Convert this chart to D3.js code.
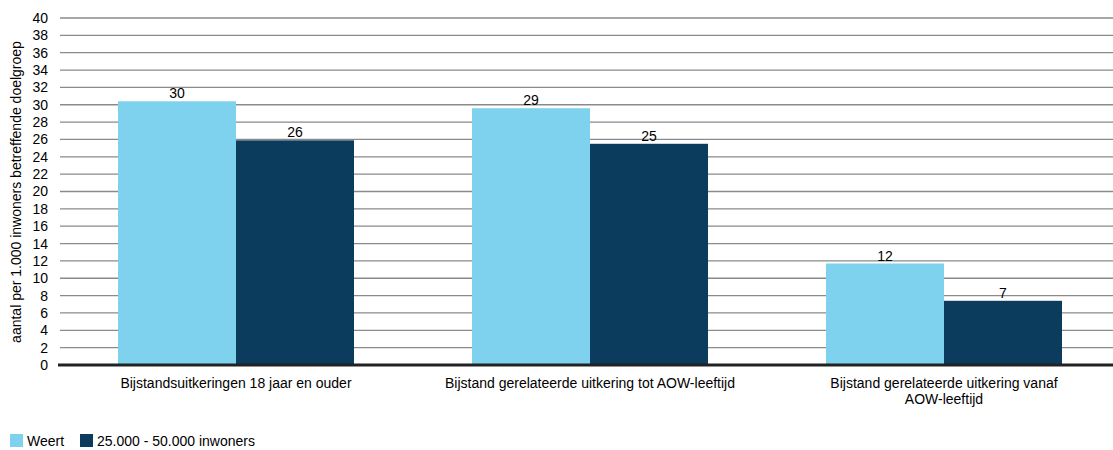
<!DOCTYPE html>
<html><head><meta charset="utf-8">
<script src="https://cdn.jsdelivr.net/npm/d3@7"></script>
<style>body{margin:0;background:#fff;} text{font-family:"Liberation Sans",Arial,sans-serif;}</style>
</head><body><svg id="c" width="1113" height="450"></svg>
<script>
const categories = ["Bijstandsuitkeringen 18 jaar en ouder", "Bijstand gerelateerde uitkering tot AOW-leeftijd", "Bijstand gerelateerde uitkering vanaf AOW-leeftijd"];
const seriesNames = ["Weert", "25.000 - 50.000 inwoners"];
const weert = [30.4, 29.6, 11.7];
const gemeenten = [25.9, 25.5, 7.4];
const valueLabels = [[30, 29, 12], [26, 25, 7]];
const yTicks = d3.range(0, 41, 2);
const colors = ["#7ED2EE", "#0B3C5E"];
const FS = 14;

const svg = d3.select("#c");
const y = d3.scaleLinear().domain([0, 40]).range([365, 18]);
const x0 = d3.scaleBand().domain(categories).range([59, 1121]).paddingInner(0).paddingOuter(0);
const x1 = d3.scaleBand().domain(seriesNames).range([0, x0.bandwidth()]).paddingInner(0).paddingOuter(0.5);

// gridlines
svg.append("g").selectAll("line").data(yTicks.filter(d => d > 0)).join("line")
  .attr("x1", 60).attr("x2", 1113).attr("y1", d => y(d)).attr("y2", d => y(d))
  .attr("stroke", "#8a8a8a").attr("stroke-width", 1.3);

// y axis labels
const yAxis = d3.axisLeft(y).tickValues(yTicks).tickSize(0).tickPadding(0);
const ga = svg.append("g").attr("transform", "translate(48,0)").call(yAxis);
ga.select(".domain").remove();
ga.selectAll("text").attr("font-size", FS).attr("fill", "#000").attr("font-family", "Liberation Sans, Arial, sans-serif");

const series = [weert, gemeenten];
const g = svg.append("g");
series.forEach((vals, si) => {
  g.append("g").selectAll("rect").data(vals).join("rect")
    .attr("x", (d, i) => x0(categories[i]) + x1(seriesNames[si]))
    .attr("width", x1.bandwidth())
    .attr("y", d => y(d)).attr("height", d => y(0) - y(d))
    .attr("fill", colors[si]);
  g.append("g").selectAll("text").data(vals).join("text")
    .attr("x", (d, i) => x0(categories[i]) + x1(seriesNames[si]) + x1.bandwidth() / 2)
    .attr("y", d => y(d) - 3)
    .attr("text-anchor", "middle").attr("font-size", FS).attr("fill", "#000")
    .text((d, i) => valueLabels[si][i]);
});

// zero line
svg.append("line").attr("x1", 58).attr("x2", 1113).attr("y1", y(0)).attr("y2", y(0))
  .attr("stroke", "#222").attr("stroke-width", 3);

// x labels
const xLines = [["Bijstandsuitkeringen 18 jaar en ouder"], ["Bijstand gerelateerde uitkering tot AOW-leeftijd"], ["Bijstand gerelateerde uitkering vanaf", "AOW-leeftijd"]];
categories.forEach((c, i) => {
  const t = svg.append("text").attr("text-anchor", "middle").attr("font-size", FS).attr("fill", "#000")
    .attr("x", x0(c) + x0.bandwidth() / 2).attr("y", 388);
  xLines[i].forEach((l, j) => t.append("tspan").attr("x", x0(c) + x0.bandwidth() / 2).attr("dy", j === 0 ? 0 : 16).text(l));
});

// y title
svg.append("text").attr("transform", "translate(21,192) rotate(-90)").attr("text-anchor", "middle")
  .attr("font-size", FS).attr("fill", "#000").text("aantal per 1.000 inwoners betreffende doelgroep");

// legend
const legX = [10, 80];
seriesNames.forEach((s, i) => {
  svg.append("rect").attr("x", legX[i]).attr("y", 434).attr("width", 13).attr("height", 13).attr("fill", colors[i]);
  svg.append("text").attr("x", legX[i] + 17).attr("y", 446).attr("font-size", FS).attr("fill", "#000").text(s);
});
</script></body></html>
